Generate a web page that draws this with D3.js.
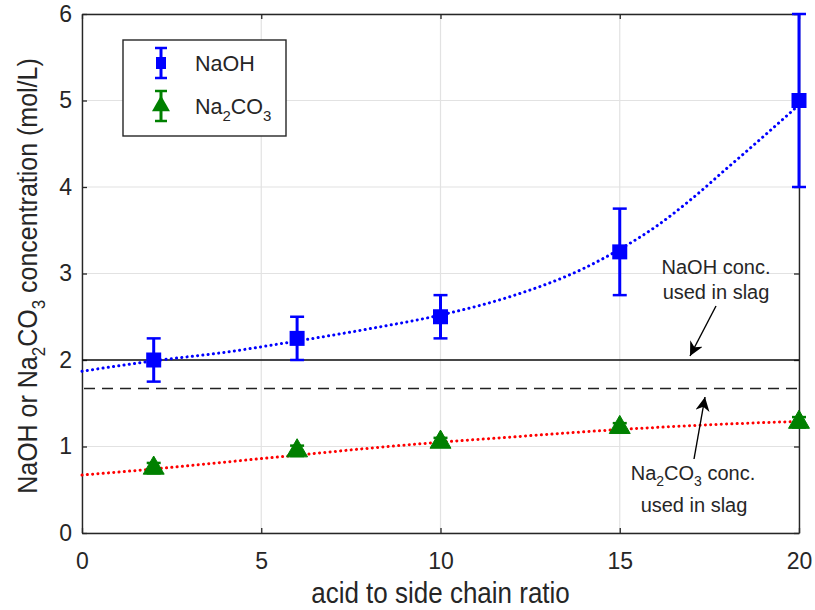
<!DOCTYPE html>
<html>
<head>
<meta charset="utf-8">
<script src="https://cdn.jsdelivr.net/npm/d3@7/dist/d3.min.js"></script>
<style>
body{margin:0;background:#fff;}
text{font-family:"Liberation Sans",Arial,sans-serif;fill:#262626;}
</style>
</head>
<body>
<svg id="chart" width="815" height="610"></svg>
<script>
// ---- data ----
const ratios = [2, 6, 10, 15, 20];
const naohValues = [2.0, 2.25, 2.5, 3.25, 5.0];
const naohErrors = [0.25, 0.25, 0.25, 0.5, 1.0];
const na2co3Values = [0.75, 0.95, 1.05, 1.22, 1.28];
const na2co3Errors = [0.06, 0.06, 0.05, 0.05, 0.06];
const naohFitX = [0, 2, 4, 6, 8, 10, 12, 14, 15, 16, 17, 18, 19, 20];
const naohFitY = [1.87, 1.99, 2.09, 2.22, 2.36, 2.52, 2.74, 3.06, 3.28, 3.54, 3.86, 4.22, 4.58, 4.95];
const na2co3FitX = [0, 2, 4, 6, 8, 10, 12, 14, 16, 18, 20];
const na2co3FitY = [0.67, 0.74, 0.82, 0.90, 0.98, 1.05, 1.11, 1.17, 1.22, 1.26, 1.29];
const naohSlagConc = 2.0;
const na2co3SlagConc = 1.67;
const xTicks = [0, 5, 10, 15, 20];
const yTicks = [0, 1, 2, 3, 4, 5, 6];

// ---- layout ----
const svg = d3.select("#chart");
const L = 82, R = 799, T = 14, B = 533;
const x = d3.scaleLinear().domain([0, 20]).range([L, R]);
const y = d3.scaleLinear().domain([0, 6]).range([B, T]);

// grid
const grid = svg.append("g");
grid.selectAll("line.gx").data(xTicks).enter().append("line")
  .attr("x1", d => x(d)).attr("x2", d => x(d)).attr("y1", T).attr("y2", B)
  .attr("stroke", "#e2e2e2").attr("stroke-width", 1.2);
grid.selectAll("line.gy").data(yTicks).enter().append("line")
  .attr("y1", d => y(d)).attr("y2", d => y(d)).attr("x1", L).attr("x2", R)
  .attr("stroke", "#e2e2e2").attr("stroke-width", 1.2);

// axes
const fmt = d3.format("d");
const axB = svg.append("g").attr("transform", `translate(0,${B})`)
  .call(d3.axisBottom(x).tickValues(xTicks).tickSizeInner(-5).tickSizeOuter(0).tickPadding(20).tickFormat(fmt));
const axT = svg.append("g").attr("transform", `translate(0,${T})`)
  .call(d3.axisTop(x).tickValues(xTicks).tickSizeInner(-5).tickSizeOuter(0).tickFormat(""));
const axL = svg.append("g").attr("transform", `translate(${L},0)`)
  .call(d3.axisLeft(y).tickValues(yTicks).tickSizeInner(-5).tickSizeOuter(0).tickPadding(10).tickFormat(fmt));
const axR = svg.append("g").attr("transform", `translate(${R},0)`)
  .call(d3.axisRight(y).tickValues(yTicks).tickSizeInner(-5).tickSizeOuter(0).tickFormat(""));
[axB, axT, axL, axR].forEach(a => {
  a.select(".domain").attr("stroke", "#262626").attr("stroke-width", 1.4);
  a.selectAll(".tick line").attr("stroke", "#262626").attr("stroke-width", 1.3);
  a.selectAll(".tick text").attr("font-size", 23).attr("fill", "#262626")
    .attr("font-family", "'Liberation Sans', Arial, sans-serif");
});

// reference lines
svg.append("line").attr("x1", L).attr("x2", R)
  .attr("y1", y(naohSlagConc)).attr("y2", y(naohSlagConc))
  .attr("stroke", "#111").attr("stroke-width", 1.5);
svg.append("line").attr("x1", L + 2).attr("x2", R)
  .attr("y1", y(na2co3SlagConc)).attr("y2", y(na2co3SlagConc))
  .attr("stroke", "#222").attr("stroke-width", 1.6).attr("stroke-dasharray", "11,7");

// fit curves
const line = d3.line().curve(d3.curveMonotoneX).x(d => x(d[0])).y(d => y(d[1]));
svg.append("path").datum(naohFitX.map((v, i) => [v, naohFitY[i]]))
  .attr("d", line).attr("fill", "none").attr("stroke", "#0000ff")
  .attr("stroke-width", 3).attr("stroke-linecap", "round").attr("stroke-dasharray", "0.1,5.2");
svg.append("path").datum(na2co3FitX.map((v, i) => [v, na2co3FitY[i]]))
  .attr("d", line).attr("fill", "none").attr("stroke", "#ff0000")
  .attr("stroke-width", 3).attr("stroke-linecap", "round").attr("stroke-dasharray", "0.1,5.2");

// error bars + markers
function errorBars(g, xs, vals, errs, color) {
  xs.forEach((xv, i) => {
    const cx = x(xv), y0 = y(vals[i] - errs[i]), y1 = y(vals[i] + errs[i]);
    g.append("line").attr("x1", cx).attr("x2", cx).attr("y1", y0).attr("y2", y1)
      .attr("stroke", color).attr("stroke-width", 3);
    [y0, y1].forEach(yy => g.append("line").attr("x1", cx - 7).attr("x2", cx + 7)
      .attr("y1", yy).attr("y2", yy).attr("stroke", color).attr("stroke-width", 2.5));
  });
}
const gN = svg.append("g");
errorBars(gN, ratios, naohValues, naohErrors, "#0000ff");
gN.selectAll("rect").data(ratios).enter().append("rect")
  .attr("x", d => x(d) - 7.5).attr("y", (d, i) => y(naohValues[i]) - 7.5)
  .attr("width", 15).attr("height", 15).attr("fill", "#0000ff");

const gC = svg.append("g");
errorBars(gC, ratios, na2co3Values, na2co3Errors, "#008000");
const tri = d3.symbol().type(d3.symbolTriangle).size(190);
gC.selectAll("path.tri").data(ratios).enter().append("path").attr("class", "tri")
  .attr("d", tri).attr("transform", (d, i) => `translate(${x(d)},${y(na2co3Values[i])})`)
  .attr("fill", "#008000").attr("stroke", "#008000").attr("stroke-width", 1);

// legend
const lg = svg.append("g");
lg.append("rect").attr("x", 123).attr("y", 40).attr("width", 163).attr("height", 96)
  .attr("fill", "#fff").attr("stroke", "#262626").attr("stroke-width", 1.4);
const legendItems = [
  {y: 63, color: "#0000ff", shape: "square"},
  {y: 106, color: "#008000", shape: "tri"}
];
legendItems.forEach(it => {
  const cx = 161;
  lg.append("line").attr("x1", cx).attr("x2", cx).attr("y1", it.y - 15).attr("y2", it.y + 15)
    .attr("stroke", it.color).attr("stroke-width", 3);
  [it.y - 15, it.y + 15].forEach(yy => lg.append("line").attr("x1", cx - 6).attr("x2", cx + 6)
    .attr("y1", yy).attr("y2", yy).attr("stroke", it.color).attr("stroke-width", 2.5));
  if (it.shape === "square") {
    lg.append("rect").attr("x", cx - 5).attr("y", it.y - 6).attr("width", 10).attr("height", 12).attr("fill", it.color);
  } else {
    lg.append("path").attr("d", d3.symbol().type(d3.symbolTriangle).size(140))
      .attr("transform", `translate(${cx},${it.y})`).attr("fill", it.color);
  }
});
lg.append("text").attr("x", 195).attr("y", 71).attr("font-size", 21.5).text("NaOH");
const t2 = lg.append("text").attr("x", 195).attr("y", 114).attr("font-size", 21.5);
t2.append("tspan").text("Na");
t2.append("tspan").attr("font-size", 15).attr("dy", 7).text("2");
t2.append("tspan").attr("dy", -7).text("CO");
t2.append("tspan").attr("font-size", 15).attr("dy", 7).text("3");

// annotations
svg.append("defs").append("marker").attr("id", "ah").attr("viewBox", "0 0 10 10")
  .attr("refX", 10).attr("refY", 5).attr("markerWidth", 14).attr("markerHeight", 14)
  .attr("markerUnits", "userSpaceOnUse").attr("orient", "auto")
  .append("path").attr("d", "M0,0 L10,5 L0,10 L3,5 Z").attr("fill", "#000");
svg.append("text").attr("x", 716).attr("y", 274).attr("text-anchor", "middle").attr("font-size", 20).text("NaOH conc.");
svg.append("text").attr("x", 716).attr("y", 299).attr("text-anchor", "middle").attr("font-size", 20).text("used in slag");
svg.append("line").attr("x1", 716).attr("y1", 306).attr("x2", 690).attr("y2", 356)
  .attr("stroke", "#000").attr("stroke-width", 1.4).attr("marker-end", "url(#ah)");
svg.append("line").attr("x1", 694).attr("y1", 459).attr("x2", 705).attr("y2", 397)
  .attr("stroke", "#000").attr("stroke-width", 1.4).attr("marker-end", "url(#ah)");
const t3 = svg.append("text").attr("x", 693).attr("y", 480).attr("text-anchor", "middle").attr("font-size", 20);
t3.append("tspan").text("Na");
t3.append("tspan").attr("font-size", 14).attr("dy", 6).text("2");
t3.append("tspan").attr("dy", -6).text("CO");
t3.append("tspan").attr("font-size", 14).attr("dy", 6).text("3");
t3.append("tspan").attr("dy", -6).text(" conc.");
svg.append("text").attr("x", 694).attr("y", 512).attr("text-anchor", "middle").attr("font-size", 20).text("used in slag");

// axis titles
svg.append("text").attr("transform", `translate(${(L + R) / 2},603) scale(1,1.12)`)
  .attr("text-anchor", "middle").attr("font-size", 26).text("acid to side chain ratio");
const yl = svg.append("text").attr("transform", `translate(37,276) rotate(-90) scale(1,1.12)`)
  .attr("text-anchor", "middle").attr("font-size", 25);
yl.append("tspan").text("NaOH or Na");
yl.append("tspan").attr("font-size", 17).attr("dy", 7).text("2");
yl.append("tspan").attr("dy", -7).text("CO");
yl.append("tspan").attr("font-size", 17).attr("dy", 7).text("3");
yl.append("tspan").attr("dy", -7).text(" concentration (mol/L)");
</script>
</body>
</html>
